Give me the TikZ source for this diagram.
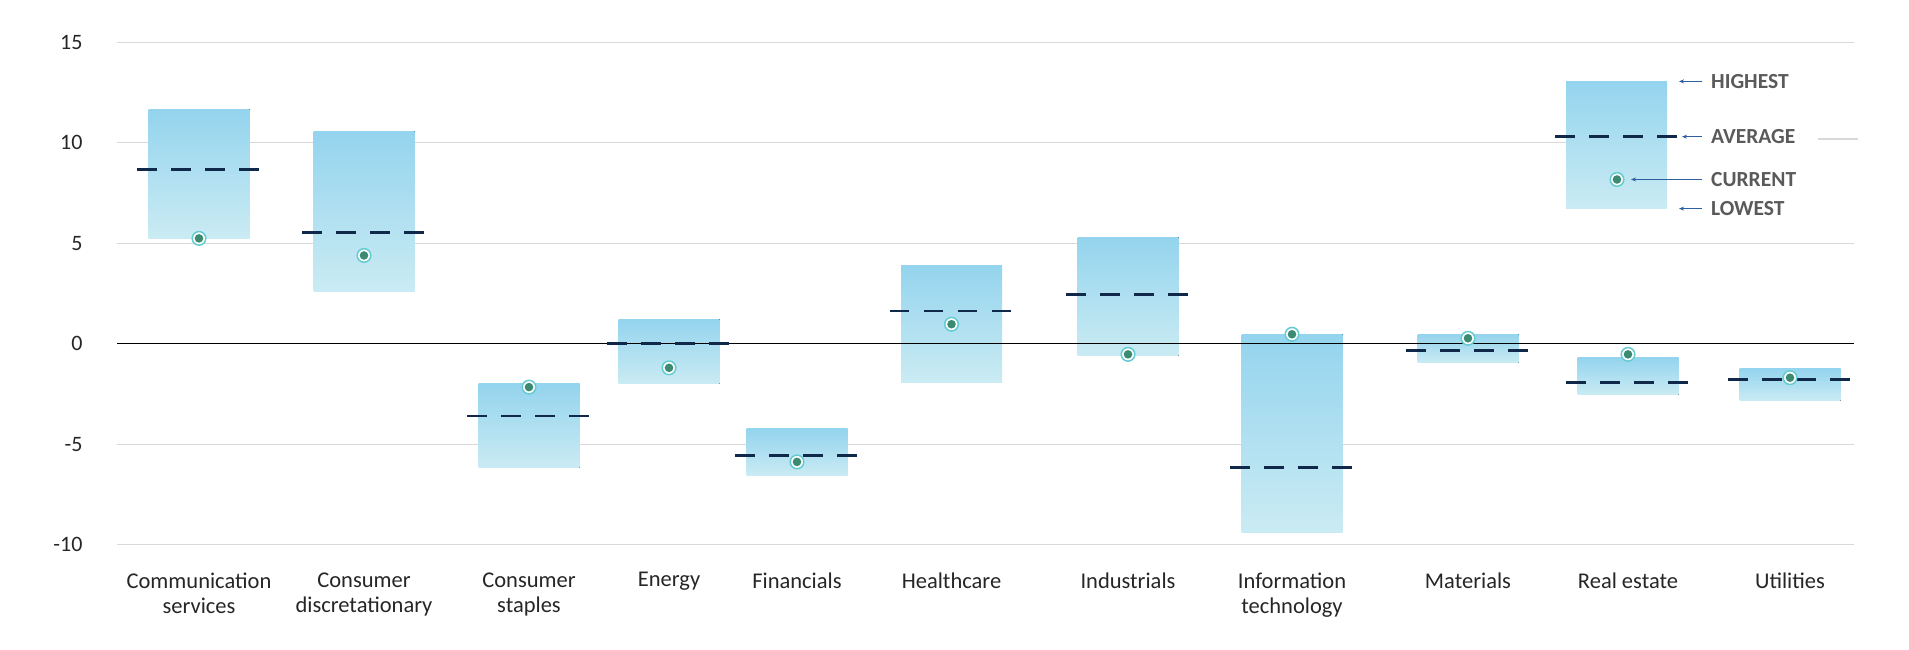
\documentclass[tikz,border=0pt]{standalone}
\usepackage{fontspec}
\setmainfont{Carlito}
\usetikzlibrary{arrows.meta}
\definecolor{gridc}{HTML}{D9D9D9}
\definecolor{bartop}{HTML}{94D4EE}
\definecolor{barbot}{HTML}{CAEBF3}
\definecolor{avgc}{HTML}{10284A}
\definecolor{ringc}{HTML}{62CCD0}
\definecolor{dotc}{HTML}{3D8A72}
\definecolor{legc}{HTML}{5A5A5A}
\definecolor{arrc}{HTML}{2E5FA0}
\begin{document}
\begin{tikzpicture}[x=1pt,y=-1pt,
  grid/.style={draw=gridc,line width=1.1pt},
  bar/.style={top color=bartop,bottom color=barbot,draw=none},
  avg/.style={draw=avgc,line width=2.8pt,dash pattern=on 19.5pt off 14.5pt},
  cat/.style={font=\fontsize{22.5}{25}\selectfont,align=center,anchor=north,text=black!85},
  ytick/.style={font=\fontsize{22}{24}\selectfont,anchor=east,text=black!85},
  leg/.style={font=\fontsize{21.5}{24}\selectfont\bfseries,text=legc,anchor=west,inner sep=0pt},
  larr/.style={draw=arrc,line width=0.9pt,-{Stealth[length=5pt,width=4pt]}}]
\useasboundingbox (0,0) rectangle (1909,650);
\def\Y#1{343.7-20.1*(#1)}
% gridlines
\foreach \v in {15,5,-5,-10}{
  \draw[grid] (117,{\Y{\v}}) -- (1854,{\Y{\v}});
  \node[ytick] at (86,{\Y{\v}}) {\v};}
\draw[grid] (117,{\Y{10}}) -- (1662,{\Y{10}});
\draw[grid] (1818,139) -- (1858,139);
\node[ytick] at (86,{\Y{10}}) {10};
\node[ytick] at (86,{\Y{0}}) {0};
% bars: center/high/low/avg/current/label
\foreach \c/\h/\l/\a/\u/\t in {
  199/11.67/5.24/8.68/5.24/{Communication\\services},
  364/10.57/2.6/5.54/4.39/{Consumer\\discretationary},
  529/-2.0/-6.18/-3.6/-2.16/{Consumer\\staples},
  669/1.22/-2.0/0/-1.2/{Energy},
  797/-4.24/-6.55/-5.55/-5.88/{Financials},
  951.5/3.9/-1.93/1.63/0.97/{Healthcare},
  1128/5.3/-0.6/2.44/-0.53/{Industrials},
  1292/0.47/-9.38/-6.16/0.47/{Information\\technology},
  1468/0.47/-0.95/-0.35/0.27/{Materials},
  1628/-0.7/-2.53/-1.92/-0.53/{Real estate},
  1790/-1.24/-2.84/-1.79/-1.69/{Utilities}}{
  \fill[bar] ({\c-50.5},{\Y{\h}}) rectangle ({\c+50.5},{\Y{\l}});
  \node[cat] at (\c,569) {\t};
}
\draw[black,line width=1.3pt] (117,{\Y{0}}) -- (1854,{\Y{0}});
\foreach \c/\a/\u in {199/8.68/5.24,364/5.54/4.39,529/-3.6/-2.16,669/0/-1.2,797/-5.55/-5.88,951.5/1.63/0.97,1128/2.44/-0.53,1292/-6.16/0.47,1468/-0.35/0.27,1628/-1.92/-0.53,1790/-1.79/-1.69}{
  \draw[avg] ({\c-62},{\Y{\a}}) -- ({\c+62},{\Y{\a}});
  \draw[ringc,line width=1.5pt,fill=white] (\c,{\Y{\u}}) circle (6.8);
  \fill[dotc] (\c,{\Y{\u}}) circle (4.3);
}
% legend
\fill[bar] (1566,{\Y{13.05}}) rectangle (1667,{\Y{6.72}});
\draw[avg] (1555,{\Y{10.3}}) -- (1679,{\Y{10.3}});
\draw[ringc,line width=1.5pt,fill=white] (1617,{\Y{8.17}}) circle (6.8);
\fill[dotc] (1617,{\Y{8.17}}) circle (4.3);
\coordinate (ch) at (1679,{\Y{13.05}});
\coordinate (ca) at (1682,{\Y{10.3}});
\coordinate (cc) at (1631,{\Y{8.17}});
\coordinate (cl) at (1679,{\Y{6.72}});
\node[leg] (lh) at (1711,{\Y{13.05}}) {HIGHEST};
\node[leg] (la) at (1711,{\Y{10.3}}) {AVERAGE};
\node[leg] (lc) at (1711,{\Y{8.17}}) {CURRENT};
\node[leg] (ll) at (1711,{\Y{6.72}}) {LOWEST};
\draw[larr] ([xshift=-9pt]lh.west) -- (ch);
\draw[larr] ([xshift=-9pt]la.west) -- (ca);
\draw[larr] ([xshift=-9pt]lc.west) -- (cc);
\draw[larr] ([xshift=-9pt]ll.west) -- (cl);
\end{tikzpicture}
\end{document}
